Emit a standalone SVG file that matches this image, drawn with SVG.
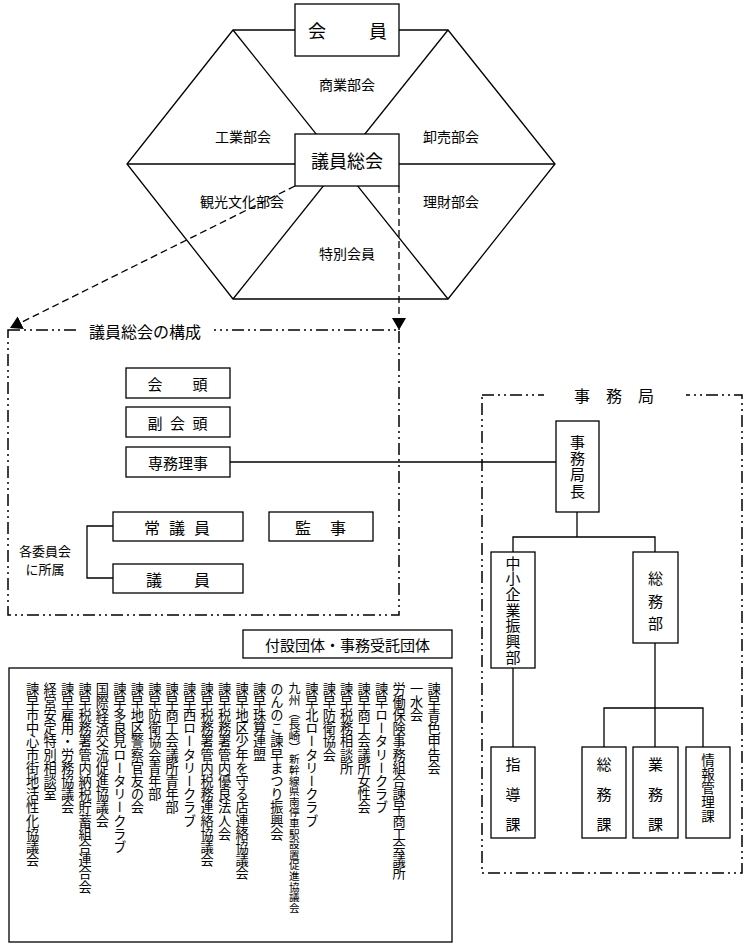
<svg xmlns="http://www.w3.org/2000/svg" width="750" height="950" viewBox="0 0 750 950">
<defs>
<style>
.ln{stroke:#000;stroke-width:1.3;fill:none}
.box{fill:#fff;stroke:#000;stroke-width:1.3}
.dd{stroke:#000;stroke-width:1.5;fill:none;stroke-dasharray:12 4 2 4 2 4}
.da{stroke:#000;stroke-width:1.3;fill:none;stroke-dasharray:7 4}
text{font-family:"Noto Sans CJK JP","Noto Sans CJK SC",sans-serif;fill:#000}
.c{text-anchor:middle;dominant-baseline:central}
.f18{font-size:18px}
.f16{font-size:16px}
.f15{font-size:15px}
.f14{font-size:14px}
.f13{font-size:13px}
.vt{writing-mode:vertical-rl;font-size:13.2px}
</style>
<marker id="arr" viewBox="0 0 12 14" refX="12" refY="7" markerWidth="12" markerHeight="14" markerUnits="userSpaceOnUse" orient="auto">
<path d="M0,0 L12,7 L0,14 Z" fill="#000"/>
</marker>
</defs>

<g id="connectors">
<polygon class="ln" points="233,30 448,30 555,164 448,299 233,299 127,164"/>
<line class="ln" x1="233" y1="30" x2="448" y2="299"/>
<line class="ln" x1="448" y1="30" x2="233" y2="299"/>
<line class="ln" x1="127" y1="164" x2="555" y2="164"/>
<line class="da" x1="295" y1="186" x2="10" y2="328" marker-end="url(#arr)"/>
<line class="da" x1="399" y1="186" x2="399" y2="330" marker-end="url(#arr)"/>
<line class="ln" x1="230" y1="462" x2="556" y2="462"/>
<polyline class="ln" points="113,526 87,526 87,578 113,578"/>
<line class="ln" x1="577" y1="512" x2="577" y2="537"/>
<polyline class="ln" points="513,552 513,537 655,537 655,552"/>
<line class="ln" x1="513" y1="668" x2="513" y2="747"/>
<line class="ln" x1="655" y1="643" x2="655" y2="747"/>
<polyline class="ln" points="604,747 604,708 703,708 703,747"/>
</g>

<g id="hex-labels">
<text class="c f14" x="347" y="84">商業部会</text>
<text class="c f14" x="243" y="136">工業部会</text>
<text class="c f14" x="451" y="136">卸売部会</text>
<text class="c f14" x="242" y="201">観光文化部会</text>
<text class="c f14" x="451" y="201">理財部会</text>
<text class="c f14" x="347" y="253">特別会員</text>
</g>

<g id="kaiin">
<rect class="box" x="295" y="4" width="104" height="52"/>
<text class="c f18" x="317" y="30">会</text>
<text class="c f18" x="378" y="30">員</text>
</g>

<g id="giin-sokai">
<rect class="box" x="295" y="134" width="104" height="52"/>
<text class="c f18" x="347" y="160">議員総会</text>
</g>

<g id="kousei-frame">
<rect class="dd" x="8" y="330" width="391" height="285"/>
<rect x="78" y="320" width="136" height="22" fill="#fff"/>
<text class="c f16" x="145" y="331">議員総会の構成</text>
</g>

<g id="kaitou">
<rect class="box" x="126" y="368" width="104" height="30"/>
<text class="c f15" x="155" y="383">会</text>
<text class="c f15" x="200" y="383">頭</text>
</g>
<g id="fukukaitou">
<rect class="box" x="126" y="407" width="104" height="30"/>
<text class="c f15" x="155" y="422">副</text>
<text class="c f15" x="177.5" y="422">会</text>
<text class="c f15" x="200" y="422">頭</text>
</g>
<g id="senmu">
<rect class="box" x="126" y="447" width="104" height="30"/>
<text class="c f15" x="178" y="462">専務理事</text>
</g>
<g id="jougiin">
<rect class="box" x="113" y="512" width="130" height="29"/>
<text class="c f16" x="152" y="526.5">常</text>
<text class="c f16" x="177" y="526.5">議</text>
<text class="c f16" x="202" y="526.5">員</text>
</g>
<g id="kanji">
<rect class="box" x="269" y="512" width="104" height="29"/>
<text class="c f16" x="303" y="526.5">監</text>
<text class="c f16" x="338" y="526.5">事</text>
</g>
<g id="giin">
<rect class="box" x="113" y="564" width="130" height="29"/>
<text class="c f16" x="154" y="578.5">議</text>
<text class="c f16" x="202" y="578.5">員</text>
</g>
<g id="iinkai-label">
<text class="c f13" x="45" y="550">各委員会</text>
<text class="c f13" x="45" y="568">に所属</text>
</g>

<g id="jimukyoku-frame">
<rect class="dd" x="482" y="395" width="260" height="478"/>
<rect x="544" y="384" width="142" height="22" fill="#fff"/>
<text class="c f16" x="614" y="395">事　務　局</text>
</g>

<g id="jimukyokucho">
<rect class="box" x="556" y="421" width="43" height="91"/>
<text class="vt" x="577.5" y="434.5" style="font-size:15px;letter-spacing:1.3px">事務局長</text>
</g>

<g id="chusho">
<rect class="box" x="491" y="552" width="44" height="116"/>
<text class="vt" x="513" y="555.5" style="font-size:15px;letter-spacing:0.7px">中小企業振興部</text>
</g>

<g id="somubu">
<rect class="box" x="633" y="552" width="45" height="91"/>
<text class="c f15" x="655.5" y="577">総</text>
<text class="c f15" x="655.5" y="600">務</text>
<text class="c f15" x="655.5" y="622">部</text>
</g>

<g id="shidouka">
<rect class="box" x="491" y="747" width="44" height="91"/>
<text class="c f15" x="513" y="763">指</text>
<text class="c f15" x="513" y="793">導</text>
<text class="c f15" x="513" y="823">課</text>
</g>
<g id="somuka">
<rect class="box" x="582" y="747" width="44" height="91"/>
<text class="c f15" x="604" y="763">総</text>
<text class="c f15" x="604" y="793">務</text>
<text class="c f15" x="604" y="823">課</text>
</g>
<g id="gyomuka">
<rect class="box" x="633" y="747" width="45" height="91"/>
<text class="c f15" x="655.5" y="763">業</text>
<text class="c f15" x="655.5" y="793">務</text>
<text class="c f15" x="655.5" y="823">課</text>
</g>
<g id="jouhouka">
<rect class="box" x="686" y="747" width="44" height="91"/>
<text class="vt" x="708" y="753" style="font-size:13.5px;letter-spacing:0.5px">情報管理課</text>
</g>

<g id="fusetsu-title">
<rect class="box" x="243" y="630" width="209" height="28"/>
<text class="c f15" x="347.5" y="644">付設団体・事務受託団体</text>
</g>

<g id="fusetsu-list">
<rect class="box" x="9" y="668" width="443" height="274"/>
<text class="vt" x="434" y="682">諫早青色申告会</text>
<text class="vt" x="416.5" y="682">一水会</text>
<text class="vt" x="399.1" y="682">労働保険事務組合諫早商工会議所</text>
<text class="vt" x="381.6" y="682">諫早ロータリークラブ</text>
<text class="vt" x="364.2" y="682">諫早商工会議所女性会</text>
<text class="vt" x="346.7" y="682">諫早税務相談所</text>
<text class="vt" x="329.3" y="682">諫早防衛協会</text>
<text class="vt" x="311.8" y="682">諫早北ロータリークラブ</text>
<text class="vt" x="294.4" y="682"><tspan style="font-size:12px">九州（長崎）</tspan><tspan style="font-size:10.6px">新幹線県南停車駅設置促進協議会</tspan></text>
<text class="vt" x="276.9" y="682">のんのこ諫早まつり振興会</text>
<text class="vt" x="259.5" y="682">諫早珠算連盟</text>
<text class="vt" x="242" y="682">諫早地区少年を守る店連絡協議会</text>
<text class="vt" x="224.6" y="682">諫早税務署管内優良法人会</text>
<text class="vt" x="207.1" y="682">諫早税務署管内税務連絡協議会</text>
<text class="vt" x="189.7" y="682">諫早西ロータリークラブ</text>
<text class="vt" x="172.2" y="682">諫早商工会議所青年部</text>
<text class="vt" x="154.8" y="682">諫早防衛協会青年部</text>
<text class="vt" x="137.3" y="682">諫早地区警察官友の会</text>
<text class="vt" x="119.9" y="682">諫早多良見ロータリークラブ</text>
<text class="vt" x="102.4" y="682">国際経済交流促進協議会</text>
<text class="vt" x="85" y="682">諫早税務署管内納税貯蓄組合連合会</text>
<text class="vt" x="67.5" y="682">諫早雇用・労務協議会</text>
<text class="vt" x="50.1" y="682">経営安定特別相談室</text>
<text class="vt" x="32.6" y="682">諫早市中心市街地活性化協議会</text>
</g>
</svg>
